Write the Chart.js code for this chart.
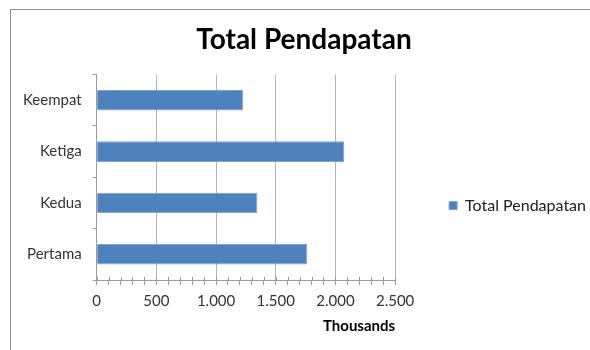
<!DOCTYPE html>
<html>
<head>
<meta charset="utf-8">
<script src="https://cdn.jsdelivr.net/npm/chart.js@4"></script>
<style>
  html, body { margin: 0; padding: 0; background: #fff; overflow: hidden; }
  #wrap { position: relative; width: 590px; height: 350px; }
  #frame { position: absolute; left: 10px; top: 9px; width: 640px; height: 400px;
           border: 1px solid #8c8c8c; pointer-events: none; }
</style>
</head>
<body>
<div id="wrap">
  <canvas id="chart_pendapatan" width="590" height="350"></canvas>
  <div id="frame"></div>
</div>
<script>
// data (in thousands)
const kategori = ["Pertama", "Kedua", "Ketiga", "Keempat"];
const totalPendapatan = [1764, 1346, 2074, 1228];
const xTicks = [0, 500, 1000, 1500, 2000, 2500];

const ctx_pendapatan = document.getElementById("chart_pendapatan");

function titik(v) {
    return String(v).replace(/\B(?=(\d{3})+(?!\d))/g, ".");
}

// minor ticks cross the axis line (excel style), so draw the part above it
const crossTicks = {
    id: "crossTicks",
    afterDatasetsDraw(chart) {
        const sx = chart.scales.x;
        const c = chart.ctx;
        c.save();
        c.strokeStyle = "#9a9a9a";
        c.lineWidth = 1;
        sx.ticks.forEach(function (t) {
            const px = Math.round(sx.getPixelForValue(t.value)) + 0.5;
            c.beginPath();
            c.moveTo(px, sx.top - 3);
            c.lineTo(px, sx.top);
            c.stroke();
        });
        c.restore();
    }
};

new Chart(ctx_pendapatan, {
    type: "bar",
    data: {
        labels: kategori,
        datasets: [{
            label: "Total Pendapatan",
            data: totalPendapatan,
            backgroundColor: "#4f81bd",
            borderColor: "#7ea3d2",
            borderWidth: 1,
            barPercentage: 0.4,
            categoryPercentage: 1
        }]
    },
    plugins: [crossTicks],
    options: {
        indexAxis: "y",
        responsive: false,
        animation: false,
        layout: { padding: { left: 12, right: -6, top: 0, bottom: 15 } },
        plugins: {
            title: {
                display: true,
                text: "Total Pendapatan",
                color: "#000",
                font: { family: "Lato", size: 28, weight: "bold" },
                padding: { top: 23, bottom: 18 }
            },
            legend: {
                position: "right",
                maxWidth: 160,
                // empty title only pushes the item down
                title: { display: true, text: "", font: { size: 1 }, padding: { top: 75, bottom: 0 } },
                labels: {
                    boxWidth: 8,
                    boxHeight: 8,
                    color: "#222",
                    font: { family: "Lato", size: 16 },
                    padding: 3
                }
            },
            tooltip: { enabled: false }
        },
        scales: {
            x: {
                min: 0,
                max: 2500,
                ticks: {
                    stepSize: 100,
                    autoSkip: false,
                    maxRotation: 0,
                    color: "#333",
                    font: { family: "Lato", size: 15 },
                    padding: 7,
                    callback: function (v) {
                        return xTicks.includes(v) ? titik(v) : "";
                    }
                },
                grid: {
                    color: function (c) {
                        return c.tick && xTicks.includes(c.tick.value) ? "#b4b4b4" : "rgba(0,0,0,0)";
                    },
                    tickColor: "#9a9a9a",
                    tickLength: 5,
                    lineWidth: 1
                },
                border: { color: "#9a9a9a" },
                title: {
                    display: true,
                    text: "Thousands",
                    align: "end",
                    color: "#000",
                    font: { family: "Lato", size: 15, weight: "bold" },
                    padding: { top: 0, bottom: 0 }
                }
            },
            y: {
                reverse: true,
                ticks: {
                    color: "#333",
                    font: { family: "Lato", size: 15 },
                    padding: 11
                },
                grid: {
                    offset: true,
                    drawOnChartArea: false,
                    tickColor: "#9a9a9a",
                    tickLength: 4
                },
                border: { color: "#9a9a9a" }
            },
            // empty axis that keeps a gap between plot and legend
            gap: {
                type: "linear",
                position: "right",
                ticks: { display: false },
                grid: { display: false },
                border: { display: false },
                afterFit: function (scale) { scale.width = 51; }
            }
        }
    }
});
</script>
</body>
</html>
